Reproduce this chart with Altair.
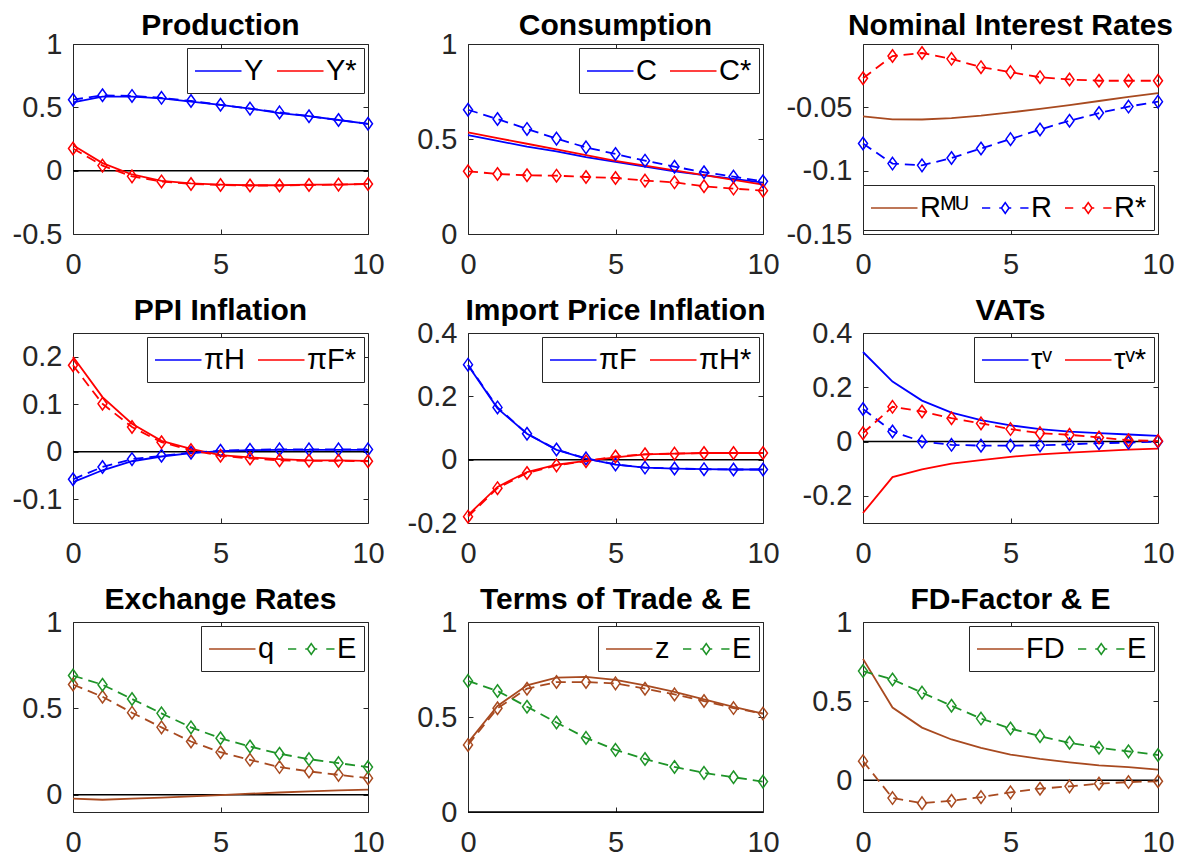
import altair as alt
import pandas as pd

T = list(range(11))

# Production
Y_solid = [0.54, 0.585, 0.585, 0.57, 0.545, 0.52, 0.49, 0.455, 0.43, 0.40, 0.37]
Y_dash = [0.56, 0.595, 0.59, 0.575, 0.55, 0.52, 0.49, 0.46, 0.43, 0.40, 0.37]
Ys_solid = [0.20, 0.06, -0.03, -0.08, -0.10, -0.11, -0.115, -0.115, -0.11, -0.11, -0.105]
Ys_dash = [0.175, 0.04, -0.045, -0.085, -0.105, -0.113, -0.117, -0.117, -0.113, -0.11, -0.105]
# Consumption
C_solid = [0.52, 0.49, 0.46, 0.435, 0.405, 0.38, 0.355, 0.33, 0.31, 0.29, 0.27]
Cs_solid = [0.535, 0.505, 0.475, 0.445, 0.415, 0.385, 0.36, 0.335, 0.31, 0.285, 0.26]
C_dash = [0.654, 0.605, 0.553, 0.502, 0.456, 0.421, 0.386, 0.354, 0.325, 0.302, 0.277]
Cs_dash = [0.33, 0.316, 0.309, 0.307, 0.30, 0.295, 0.281, 0.272, 0.251, 0.239, 0.228]
# Nominal interest rates
RMU_solid = [-0.0571, -0.0595, -0.0596, -0.0585, -0.0566, -0.054, -0.0513, -0.0482, -0.045, -0.0418, -0.0387]
R_dash = [-0.0786, -0.0944, -0.0958, -0.090, -0.0825, -0.0751, -0.0675, -0.0606, -0.0545, -0.0494, -0.0455]
Rs_dash = [-0.027, -0.0095, -0.0071, -0.0117, -0.0183, -0.0222, -0.0262, -0.028, -0.029, -0.029, -0.029]
# PPI inflation
piH_solid = [-0.064, -0.039, -0.02, -0.01, -0.003, 0.0014, 0.0035, 0.004, 0.004, 0.004, 0.004]
piH_dash = [-0.058, -0.032, -0.0155, -0.0085, -0.002, 0.002, 0.004, 0.005, 0.005, 0.005, 0.005]
piFs_solid = [0.2, 0.115, 0.059, 0.023, 0.006, -0.007, -0.012, -0.0155, -0.018, -0.018, -0.019]
piFs_dash = [0.182, 0.101, 0.052, 0.02, 0.0035, -0.0085, -0.014, -0.018, -0.019, -0.019, -0.02]
# Import price inflation
piF_solid = [0.298, 0.162, 0.082, 0.031, 0.003, -0.016, -0.025, -0.028, -0.03, -0.031, -0.031]
piF_dash = [0.30, 0.165, 0.082, 0.032, 0.004, -0.015, -0.025, -0.028, -0.03, -0.031, -0.031]
piHs_solid = [-0.175, -0.086, -0.039, -0.016, -0.004, 0.007, 0.017, 0.019, 0.021, 0.021, 0.021]
piHs_dash = [-0.18, -0.09, -0.042, -0.018, -0.005, 0.01, 0.017, 0.019, 0.021, 0.021, 0.021]
# VATs
tv_solid = [0.33, 0.221, 0.151, 0.107, 0.079, 0.06, 0.046, 0.037, 0.031, 0.026, 0.021]
tvs_solid = [-0.263, -0.131, -0.102, -0.081, -0.068, -0.056, -0.047, -0.041, -0.035, -0.03, -0.026]
tv_dash = [0.12, 0.037, 0.0, -0.012, -0.015, -0.015, -0.014, -0.01, -0.006, -0.004, 0.0]
tvs_dash = [0.031, 0.128, 0.111, 0.086, 0.067, 0.046, 0.031, 0.025, 0.015, 0.005, 0.002]
# Exchange rates
q_solid = [-0.023, -0.029, -0.023, -0.017, -0.01, -0.002, 0.006, 0.013, 0.019, 0.025, 0.029]
q_dash = [0.638, 0.567, 0.475, 0.39, 0.308, 0.246, 0.202, 0.16, 0.135, 0.115, 0.096]
E_dash = [0.69, 0.637, 0.554, 0.471, 0.39, 0.327, 0.279, 0.237, 0.206, 0.183, 0.16]
# Terms of trade
z_solid = [0.365, 0.558, 0.667, 0.707, 0.711, 0.695, 0.667, 0.632, 0.593, 0.553, 0.518]
z_dash = [0.353, 0.546, 0.649, 0.684, 0.684, 0.677, 0.649, 0.619, 0.584, 0.547, 0.518]
# FD factor
FD_solid = [0.767, 0.46, 0.333, 0.258, 0.205, 0.163, 0.136, 0.114, 0.095, 0.083, 0.068]
FD_dash = [0.121, -0.112, -0.144, -0.129, -0.106, -0.076, -0.053, -0.038, -0.021, -0.011, -0.006]

X_TICKS = [0, 5, 10]

FONT = "Liberation Sans, Arial, DejaVu Sans"
BLUE = "#0000FF"
RED = "#FF0000"
BROWN = "#A84A20"
GREEN = "#1E9428"
AXC = "#262626"
SOLID_SYM = "M-1,0H2.1"
DASH_SYM = ("M-1,0H-0.45M0.15,0H0.3M0.8,0H0.95M1.55,0H2.1"
            "M0.55,-0.36L0.8,0L0.55,0.36L0.3,0Z")
DIAMOND = "M0,-1.25L0.9,0L0,1.25L-0.9,0Z"
LW = 1.8


def df(vals):
    return pd.DataFrame({"t": T, "v": vals})


def tick_axis(orient, values, labels=True, pad=11):
    kw = dict(orient=orient, values=values, offset=-5, tickSize=5, domain=False,
              grid=False, title=None, tickColor=AXC, tickWidth=1,
              labels=labels, labelFlush=False, labelOverlap=False)
    if labels:
        kw.update(labelFontSize=29, labelFont=FONT, labelColor=AXC,
                  labelPadding=pad, labelExpr="datum.value + ''")
    return alt.Axis(**kw)


def panel(title, ydom, yticks, solids, dashes, legend, lorient, zero, first_row=False):
    xs = alt.Scale(domain=[0, 10], nice=False, zero=False)
    ys = alt.Scale(domain=ydom, nice=False, zero=False)
    layers = []
    if zero:
        layers.append(
            alt.Chart(pd.DataFrame({"v": [0.0]}))
            .mark_rule(color="black", strokeWidth=1.5)
            .encode(y=alt.Y("v:Q", scale=ys, axis=None))
        )
    for i, (vals, color) in enumerate(solids):
        xa = tick_axis("bottom", X_TICKS, pad=16) if i == 0 else None
        ya = tick_axis("left", yticks, pad=11) if i == 0 else None
        layers.append(
            alt.Chart(df(vals))
            .mark_line(color=color, strokeWidth=LW)
            .encode(x=alt.X("t:Q", scale=xs, axis=xa), y=alt.Y("v:Q", scale=ys, axis=ya))
        )
    for vals, color in dashes:
        d = df(vals)
        layers.append(
            alt.Chart(d)
            .mark_line(color=color, strokeWidth=LW, strokeDash=[10, 6])
            .encode(x=alt.X("t:Q", scale=xs, axis=None), y=alt.Y("v:Q", scale=ys, axis=None))
        )
        layers.append(
            alt.Chart(d)
            .mark_point(shape=DIAMOND, filled=False, size=100, color=color,
                        strokeWidth=1.5, opacity=1)
            .encode(x=alt.X("t:Q", scale=xs, axis=None), y=alt.Y("v:Q", scale=ys, axis=None))
        )
    labels = [l for l, _, _ in legend]
    colors = [c for _, c, _ in legend]
    shapes = [s for _, _, s in legend]
    n = len(labels)
    leg = alt.Legend(
        title=None, orient=lorient, direction="horizontal", columns=n, offset=4,
        padding=7, fillColor="white", strokeColor=AXC, cornerRadius=0,
        labelFontSize=29, labelFont=FONT, labelColor="black", labelOffset=18,
        columnPadding=9, symbolSize=900, symbolStrokeWidth=1.6, labelLimit=400,
    )
    ldf = pd.DataFrame({"t": [0] * n, "v": [ydom[0]] * n, "s": labels})
    layers.append(
        alt.Chart(ldf)
        .transform_filter("false")
        .mark_point(filled=False, strokeWidth=1.6, opacity=1)
        .encode(
            x=alt.X("t:Q", scale=xs, axis=tick_axis("top", X_TICKS, labels=False)),
            y=alt.Y("v:Q", scale=ys, axis=tick_axis("right", yticks, labels=False)),
            color=alt.Color("s:N", scale=alt.Scale(domain=labels, range=colors), legend=leg),
            shape=alt.Shape("s:N", scale=alt.Scale(domain=labels, range=shapes), legend=leg),
        )
    )
    # the top tick label (when it sits on the frame) pushes the title up; compensate
    dy = 43 if yticks[-1] == ydom[1] else 29
    if first_row:
        dy += 4  # keep the first-row titles inside the page
    return alt.layer(*layers).properties(
        width=295, height=190,
        title=alt.TitleParams(text=title, fontSize=30, font=FONT, fontWeight="bold",
                              color="black", anchor="middle", baseline="alphabetic",
                              frame="group", offset=12, dy=dy),
    )


panels = [
    panel("Production", [-0.5, 1], [-0.5, 0, 0.5, 1],
          [(Y_solid, BLUE), (Ys_solid, RED)], [(Y_dash, BLUE), (Ys_dash, RED)],
          [("Y", BLUE, SOLID_SYM), ("Y*", RED, SOLID_SYM)], "top-right", True, True),
    panel("Consumption", [0, 1], [0, 0.5, 1],
          [(C_solid, BLUE), (Cs_solid, RED)], [(C_dash, BLUE), (Cs_dash, RED)],
          [("C", BLUE, SOLID_SYM), ("C*", RED, SOLID_SYM)], "top-right", False, True),
    panel("Nominal Interest Rates", [-0.15, 0], [-0.15, -0.1, -0.05],
          [(RMU_solid, BROWN)], [(R_dash, BLUE), (Rs_dash, RED)],
          [("Rᴹᵁ", BROWN, SOLID_SYM), ("R", BLUE, DASH_SYM), ("R*", RED, DASH_SYM)],
          "bottom-right", False, True),
    panel("PPI Inflation", [-0.15, 0.25], [-0.1, 0, 0.1, 0.2],
          [(piH_solid, BLUE), (piFs_solid, RED)], [(piH_dash, BLUE), (piFs_dash, RED)],
          [("πH", BLUE, SOLID_SYM), ("πF*", RED, SOLID_SYM)], "top-right", True),
    panel("Import Price Inflation", [-0.2, 0.4], [-0.2, 0, 0.2, 0.4],
          [(piF_solid, BLUE), (piHs_solid, RED)], [(piF_dash, BLUE), (piHs_dash, RED)],
          [("πF", BLUE, SOLID_SYM), ("πH*", RED, SOLID_SYM)], "top-right", True),
    panel("VATs", [-0.3, 0.4], [-0.2, 0, 0.2, 0.4],
          [(tv_solid, BLUE), (tvs_solid, RED)], [(tv_dash, BLUE), (tvs_dash, RED)],
          [("τᵛ", BLUE, SOLID_SYM), ("τᵛ*", RED, SOLID_SYM)], "top-right", True),
    panel("Exchange Rates", [-0.1, 1], [0, 0.5, 1],
          [(q_solid, BROWN)], [(q_dash, BROWN), (E_dash, GREEN)],
          [("q", BROWN, SOLID_SYM), ("E", GREEN, DASH_SYM)], "top-right", True),
    panel("Terms of Trade & E", [0, 1], [0, 0.5, 1],
          [(z_solid, BROWN)], [(z_dash, BROWN), (E_dash, GREEN)],
          [("z", BROWN, SOLID_SYM), ("E", GREEN, DASH_SYM)], "top-right", True),
    panel("FD-Factor & E", [-0.2, 1], [0, 0.5, 1],
          [(FD_solid, BROWN)], [(FD_dash, BROWN), (E_dash, GREEN)],
          [("FD", BROWN, SOLID_SYM), ("E", GREEN, DASH_SYM)], "top-right", True),
]

chart = (
    alt.concat(*panels, columns=3, spacing={"row": 99, "column": 100}, bounds="flush")
    .resolve_scale(color="independent", shape="independent")
    .resolve_legend(color="independent", shape="independent")
    .configure_view(stroke=AXC, strokeWidth=1)
    .properties(
        autosize=alt.AutoSizeParams(type="none"),
        padding={"left": 65, "top": 36, "right": 1110, "bottom": 814},
    )
)

chart.save("out.html", embed_options={"renderer": "svg", "actions": False})
